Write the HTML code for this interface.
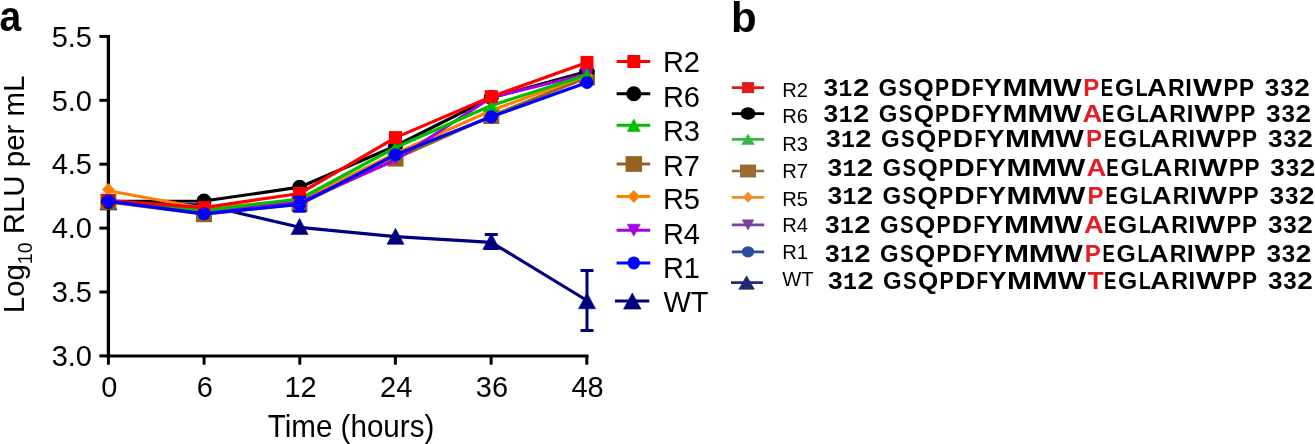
<!DOCTYPE html>
<html><head><meta charset="utf-8"><style>
html,body{margin:0;padding:0;background:#fff;width:1315px;height:444px;overflow:hidden}
svg{display:block;font-family:"Liberation Sans",sans-serif;will-change:transform}
</style></head><body>
<svg width="1315" height="444" viewBox="0 0 1315 444">
<g stroke="#000" stroke-width="3" fill="none" stroke-linecap="butt">
<path d="M108.4 35 V357.4" stroke-width="3.3"/>
<path d="M106.9 355.9 H588.5"/>
<path d="M99.4 36.40 H108.4"/>
<path d="M99.4 100.30 H108.4"/>
<path d="M99.4 164.20 H108.4"/>
<path d="M99.4 228.10 H108.4"/>
<path d="M99.4 292.00 H108.4"/>
<path d="M99.4 355.90 H108.4"/>
<path d="M108.4 355.9 V364.7"/>
<path d="M204.1 355.9 V364.7"/>
<path d="M299.8 355.9 V364.7"/>
<path d="M395.4 355.9 V364.7"/>
<path d="M491.1 355.9 V364.7"/>
<path d="M586.8 355.9 V364.7"/>
</g>
<g font-family="Liberation Sans, sans-serif" font-size="29" fill="#000">
<text x="92" y="47.00" text-anchor="end">5.5</text>
<text x="92" y="111.00" text-anchor="end">5.0</text>
<text x="92" y="174.10" text-anchor="end">4.5</text>
<text x="92" y="238.10" text-anchor="end">4.0</text>
<text x="92" y="302.00" text-anchor="end">3.5</text>
<text x="92" y="365.50" text-anchor="end">3.0</text>
<text transform="translate(109.20 396.9) scale(1 1.025)" text-anchor="middle">0</text>
<text transform="translate(204.90 396.9) scale(1 1.025)" text-anchor="middle">6</text>
<text transform="translate(300.60 396.9) scale(1 1.025)" text-anchor="middle">12</text>
<text transform="translate(396.20 396.9) scale(1 1.025)" text-anchor="middle">24</text>
<text transform="translate(491.90 396.9) scale(1 1.025)" text-anchor="middle">36</text>
<text transform="translate(587.60 396.9) scale(1 1.025)" text-anchor="middle">48</text>
<text transform="translate(267.7 437.3) scale(1 1.04)" font-size="29.6">Time (hours)</text>
<text transform="translate(24.3 313.3) rotate(-90)" font-size="29.45">Log<tspan font-size="19.5" dy="7.5">10</tspan><tspan dy="-7.5"> RLU per mL</tspan></text>
</g>
<text transform="translate(-0.6 31.4) scale(0.93 1)" font-family="Liberation Sans, sans-serif" font-weight="bold" font-size="42">a</text>
<text x="731" y="31.5" font-family="Liberation Sans, sans-serif" font-weight="bold" font-size="42">b</text>
<polyline points="108.40,202.00 204.00,205.00 299.60,227.30 395.50,236.60 491.30,242.30 587.00,300.50" fill="none" stroke="#000080" stroke-width="3.2" stroke-linejoin="round"/>
<path d="M491.3 234.5 V248.5 M484.8 234.5 H497.8 M484.8 248.5 H497.8" stroke="#000080" stroke-width="3" fill="none"/>
<path d="M587.0 270.5 V330.5 M580.5 270.5 H593.5 M580.5 330.5 H593.5" stroke="#000080" stroke-width="3" fill="none"/>
<path d="M108.40 194.00 L116.90 210.00 L99.90 210.00Z" fill="#000080" stroke="#000080" stroke-width="0.6" stroke-linejoin="round"/>
<path d="M204.00 197.00 L212.50 213.00 L195.50 213.00Z" fill="#000080" stroke="#000080" stroke-width="0.6" stroke-linejoin="round"/>
<path d="M299.60 218.40 L308.10 234.40 L291.10 234.40Z" fill="#000080" stroke="#000080" stroke-width="0.6" stroke-linejoin="round"/>
<path d="M395.50 228.30 L404.00 244.30 L387.00 244.30Z" fill="#000080" stroke="#000080" stroke-width="0.6" stroke-linejoin="round"/>
<path d="M491.30 233.50 L499.80 249.50 L482.80 249.50Z" fill="#000080" stroke="#000080" stroke-width="0.6" stroke-linejoin="round"/>
<path d="M587.00 292.80 L595.50 308.80 L578.50 308.80Z" fill="#000080" stroke="#000080" stroke-width="0.6" stroke-linejoin="round"/>
<polyline points="108.40,201.80 204.00,214.20 299.60,204.00 395.50,158.60 491.30,116.00 587.00,77.50" fill="none" stroke="#956220" stroke-width="3.2" stroke-linejoin="round"/>
<rect x="100.40" y="193.80" width="16" height="16" fill="#956220"/>
<rect x="196.00" y="206.20" width="16" height="16" fill="#956220"/>
<rect x="291.60" y="196.00" width="16" height="16" fill="#956220"/>
<rect x="387.50" y="150.60" width="16" height="16" fill="#956220"/>
<rect x="483.30" y="108.00" width="16" height="16" fill="#956220"/>
<rect x="579.00" y="69.50" width="16" height="16" fill="#956220"/>
<polyline points="108.40,201.40 204.00,201.00 299.60,187.20 395.50,146.00 491.30,97.60 587.00,71.50" fill="none" stroke="#000000" stroke-width="3.2" stroke-linejoin="round"/>
<ellipse cx="108.40" cy="201.40" rx="7.5" ry="7.5" fill="#000000"/>
<ellipse cx="204.00" cy="201.00" rx="7.5" ry="7.5" fill="#000000"/>
<ellipse cx="299.60" cy="187.20" rx="7.5" ry="7.5" fill="#000000"/>
<ellipse cx="395.50" cy="146.00" rx="7.5" ry="7.5" fill="#000000"/>
<ellipse cx="491.30" cy="97.60" rx="7.5" ry="7.5" fill="#000000"/>
<ellipse cx="587.00" cy="71.50" rx="7.5" ry="7.5" fill="#000000"/>
<polyline points="108.40,190.80 204.00,208.20 299.60,200.50 395.50,153.50 491.30,110.50 587.00,75.50" fill="none" stroke="#ff8000" stroke-width="3.2" stroke-linejoin="round"/>
<path d="M108.40 183.00 L114.80 189.50 L108.40 196.00 L102.00 189.50Z" fill="#ff8000"/>
<path d="M204.00 201.50 L210.40 208.00 L204.00 214.50 L197.60 208.00Z" fill="#ff8000"/>
<path d="M299.60 194.00 L306.00 200.50 L299.60 207.00 L293.20 200.50Z" fill="#ff8000"/>
<path d="M395.50 147.00 L401.90 153.50 L395.50 160.00 L389.10 153.50Z" fill="#ff8000"/>
<path d="M491.30 104.00 L497.70 110.50 L491.30 117.00 L484.90 110.50Z" fill="#ff8000"/>
<path d="M587.00 69.00 L593.40 75.50 L587.00 82.00 L580.60 75.50Z" fill="#ff8000"/>
<polyline points="108.40,200.50 204.00,211.50 299.60,202.30 395.50,160.00 491.30,97.50 587.00,74.00" fill="none" stroke="#a400e0" stroke-width="3.2" stroke-linejoin="round"/>
<path d="M108.40 206.50 L114.90 194.50 L101.90 194.50Z" fill="#a400e0" stroke="#a400e0" stroke-width="0.6" stroke-linejoin="round"/>
<path d="M204.00 217.50 L210.50 205.50 L197.50 205.50Z" fill="#a400e0" stroke="#a400e0" stroke-width="0.6" stroke-linejoin="round"/>
<path d="M299.60 208.30 L306.10 196.30 L293.10 196.30Z" fill="#a400e0" stroke="#a400e0" stroke-width="0.6" stroke-linejoin="round"/>
<path d="M395.50 164.50 L402.00 152.50 L389.00 152.50Z" fill="#a400e0" stroke="#a400e0" stroke-width="0.6" stroke-linejoin="round"/>
<path d="M491.30 103.50 L497.80 91.50 L484.80 91.50Z" fill="#a400e0" stroke="#a400e0" stroke-width="0.6" stroke-linejoin="round"/>
<path d="M587.00 80.00 L593.50 68.00 L580.50 68.00Z" fill="#a400e0" stroke="#a400e0" stroke-width="0.6" stroke-linejoin="round"/>
<polyline points="108.40,200.50 204.00,210.50 299.60,199.00 395.50,147.50 491.30,105.50 587.00,75.00" fill="none" stroke="#00be00" stroke-width="3.2" stroke-linejoin="round"/>
<path d="M108.40 194.25 L114.90 206.75 L101.90 206.75Z" fill="#00be00" stroke="#00be00" stroke-width="0.6" stroke-linejoin="round"/>
<path d="M204.00 204.25 L210.50 216.75 L197.50 216.75Z" fill="#00be00" stroke="#00be00" stroke-width="0.6" stroke-linejoin="round"/>
<path d="M299.60 192.75 L306.10 205.25 L293.10 205.25Z" fill="#00be00" stroke="#00be00" stroke-width="0.6" stroke-linejoin="round"/>
<path d="M395.50 141.25 L402.00 153.75 L389.00 153.75Z" fill="#00be00" stroke="#00be00" stroke-width="0.6" stroke-linejoin="round"/>
<path d="M491.30 99.25 L497.80 111.75 L484.80 111.75Z" fill="#00be00" stroke="#00be00" stroke-width="0.6" stroke-linejoin="round"/>
<path d="M587.00 68.75 L593.50 81.25 L580.50 81.25Z" fill="#00be00" stroke="#00be00" stroke-width="0.6" stroke-linejoin="round"/>
<polyline points="108.40,200.50 204.00,207.60 299.60,193.50 395.50,137.60 491.30,96.70 587.00,62.40" fill="none" stroke="#ff0000" stroke-width="3.2" stroke-linejoin="round"/>
<rect x="101.90" y="194.00" width="13" height="13" fill="#ff0000"/>
<rect x="197.50" y="201.10" width="13" height="13" fill="#ff0000"/>
<rect x="293.10" y="187.00" width="13" height="13" fill="#ff0000"/>
<rect x="389.00" y="131.10" width="13" height="13" fill="#ff0000"/>
<rect x="484.80" y="90.20" width="13" height="13" fill="#ff0000"/>
<rect x="580.50" y="55.90" width="13" height="13" fill="#ff0000"/>
<polyline points="108.40,201.20 204.00,213.80 299.60,204.40 395.50,154.70 491.30,116.80 587.00,82.50" fill="none" stroke="#0000ff" stroke-width="3.2" stroke-linejoin="round"/>
<path d="M299.6 197.3 V211.2 M293.1 197.3 H306.1 M293.1 211.2 H306.1" stroke="#0000ff" stroke-width="3" fill="none"/>
<ellipse cx="108.40" cy="201.20" rx="6.5" ry="6.5" fill="#0000ff"/>
<ellipse cx="204.00" cy="213.80" rx="6.5" ry="6.5" fill="#0000ff"/>
<ellipse cx="299.60" cy="204.40" rx="6.5" ry="6.5" fill="#0000ff"/>
<ellipse cx="395.50" cy="154.70" rx="6.5" ry="6.5" fill="#0000ff"/>
<ellipse cx="491.30" cy="116.80" rx="6.5" ry="6.5" fill="#0000ff"/>
<ellipse cx="587.00" cy="82.50" rx="6.5" ry="6.5" fill="#0000ff"/>
<path d="M616.6 61.5 H650.2" stroke="#ff0000" stroke-width="3"/>
<rect x="627.30" y="55.00" width="13" height="13" fill="#ff0000"/>
<text transform="translate(662.9 72.20) scale(1 1.04)" font-family="Liberation Sans, sans-serif" font-size="29">R2</text>
<path d="M616.6 93.8 H650.2" stroke="#000000" stroke-width="3"/>
<ellipse cx="633.80" cy="93.80" rx="7.5" ry="7.5" fill="#000000"/>
<text transform="translate(662.9 106.60) scale(1 1.04)" font-family="Liberation Sans, sans-serif" font-size="29">R6</text>
<path d="M616.6 125.2 H650.2" stroke="#00be00" stroke-width="3"/>
<path d="M633.80 118.95 L640.30 131.45 L627.30 131.45Z" fill="#00be00" stroke="#00be00" stroke-width="0.6" stroke-linejoin="round"/>
<text transform="translate(662.9 140.70) scale(1 1.04)" font-family="Liberation Sans, sans-serif" font-size="29">R3</text>
<path d="M616.6 164.0 H650.2" stroke="#956220" stroke-width="3"/>
<rect x="625.55" y="156.15" width="16.5" height="15.7" fill="#956220"/>
<text transform="translate(662.9 176.30) scale(1 1.04)" font-family="Liberation Sans, sans-serif" font-size="29">R7</text>
<path d="M616.6 196.5 H650.2" stroke="#ff8000" stroke-width="3"/>
<path d="M633.80 190.00 L640.10 196.50 L633.80 203.00 L627.50 196.50Z" fill="#ff8000"/>
<text transform="translate(662.9 209.30) scale(1 1.04)" font-family="Liberation Sans, sans-serif" font-size="29">R5</text>
<path d="M616.6 230.2 H650.2" stroke="#a400e0" stroke-width="3"/>
<path d="M633.80 236.20 L640.30 224.20 L627.30 224.20Z" fill="#a400e0" stroke="#a400e0" stroke-width="0.6" stroke-linejoin="round"/>
<text transform="translate(662.9 244.00) scale(1 1.04)" font-family="Liberation Sans, sans-serif" font-size="29">R4</text>
<path d="M616.6 262.9 H650.2" stroke="#0000ff" stroke-width="3"/>
<ellipse cx="633.80" cy="262.90" rx="6.25" ry="6.5" fill="#0000ff"/>
<text transform="translate(662.9 278.30) scale(1 1.04)" font-family="Liberation Sans, sans-serif" font-size="29">R1</text>
<path d="M615 301.1 H649.3" stroke="#000080" stroke-width="3"/>
<path d="M632.30 293.10 L641.05 309.10 L623.55 309.10Z" fill="#000080" stroke="#000080" stroke-width="0.6" stroke-linejoin="round"/>
<text transform="translate(663.4 311.70) scale(1 1.04)" font-family="Liberation Sans, sans-serif" font-size="29">WT</text>
<path d="M731.8 87.6 H764.2" stroke="#e31a1c" stroke-width="2.7"/>
<rect x="741.90" y="82.10" width="12.2" height="11" fill="#e31a1c"/>
<text x="782.2" y="96.90" font-family="Liberation Sans, sans-serif" font-size="20.2">R2</text>
<path d="M731.8 113.6 H764.2" stroke="#000000" stroke-width="2.7"/>
<ellipse cx="748.00" cy="113.60" rx="7.5" ry="6.25" fill="#000000"/>
<text x="782.2" y="123.30" font-family="Liberation Sans, sans-serif" font-size="20.2">R6</text>
<path d="M731.8 139.4 H764.2" stroke="#3ab54a" stroke-width="2.7"/>
<path d="M748.00 134.20 L754.50 144.60 L741.50 144.60Z" fill="#3ab54a" stroke="#3ab54a" stroke-width="0.6" stroke-linejoin="round"/>
<text x="782.2" y="150.60" font-family="Liberation Sans, sans-serif" font-size="20.2">R3</text>
<path d="M731.8 171 H764.2" stroke="#9a6a2e" stroke-width="2.7"/>
<rect x="740.05" y="164.55" width="15.9" height="12.9" fill="#9a6a2e"/>
<text x="782.2" y="178.30" font-family="Liberation Sans, sans-serif" font-size="20.2">R7</text>
<path d="M731.8 197.3 H764.2" stroke="#f28c28" stroke-width="2.7"/>
<path d="M748.00 191.80 L753.25 197.30 L748.00 202.80 L742.75 197.30Z" fill="#f28c28"/>
<text x="782.2" y="205.60" font-family="Liberation Sans, sans-serif" font-size="20.2">R5</text>
<path d="M731.8 224.9 H764.2" stroke="#7e3f98" stroke-width="2.7"/>
<path d="M748.00 229.95 L753.85 219.85 L742.15 219.85Z" fill="#7e3f98" stroke="#7e3f98" stroke-width="0.6" stroke-linejoin="round"/>
<text x="782.2" y="232.20" font-family="Liberation Sans, sans-serif" font-size="20.2">R4</text>
<path d="M731.8 251.8 H764.2" stroke="#2b4ea2" stroke-width="2.7"/>
<ellipse cx="748.00" cy="251.80" rx="6.2" ry="5.65" fill="#2b4ea2"/>
<text x="782.2" y="259.20" font-family="Liberation Sans, sans-serif" font-size="20.2">R1</text>
<path d="M731 282.6 H762.9" stroke="#1f2a6e" stroke-width="2.7"/>
<path d="M746.60 275.85 L754.40 289.35 L738.80 289.35Z" fill="#1f2a6e" stroke="#1f2a6e" stroke-width="0.6" stroke-linejoin="round"/>
<text x="782.3" y="286.10" font-family="Liberation Sans, sans-serif" font-size="20.2">WT</text>
<g font-family="Liberation Sans, sans-serif" font-weight="bold" font-size="23.7">
<text transform="translate(830.65 96.15) scale(1.112 1)" x="-6.43" fill="#000">3</text>
<text font-family="Liberation Mono, monospace" transform="translate(845.80 96.15) scale(0.981 1)" x="-7.41" fill="#000">1</text>
<text transform="translate(860.95 96.15) scale(1.236 1)" x="-6.53" fill="#000">2</text>
<text transform="translate(887.60 96.15) scale(1.013 1)" x="-8.97" fill="#000">G</text>
<text transform="translate(905.30 96.15) scale(0.859 1)" x="-7.78" fill="#000">S</text>
<text transform="translate(923.65 96.15) scale(1.099 1)" x="-9.21" fill="#000">Q</text>
<text transform="translate(942.40 96.15) scale(0.895 1)" x="-8.29" fill="#000">P</text>
<text transform="translate(960.95 96.15) scale(1.190 1)" x="-8.85" fill="#000">D</text>
<text transform="translate(978.10 96.15) scale(0.798 1)" x="-7.60" fill="#000">F</text>
<text transform="translate(992.95 96.15) scale(1.152 1)" x="-7.92" fill="#000">Y</text>
<text transform="translate(1015.00 96.15) scale(1.267 1)" x="-9.87" fill="#000">M</text>
<text transform="translate(1040.30 96.15) scale(1.303 1)" x="-9.87" fill="#000">M</text>
<text transform="translate(1067.15 96.15) scale(1.277 1)" x="-11.18" fill="#000">W</text>
<text transform="translate(1091.70 96.15) scale(1.014 1)" x="-8.29" fill="#e41e25">P</text>
<text transform="translate(1107.20 96.15) scale(0.782 1)" x="-8.23" fill="#000">E</text>
<text transform="translate(1124.25 96.15) scale(1.044 1)" x="-8.97" fill="#000">G</text>
<text transform="translate(1142.05 96.15) scale(0.814 1)" x="-7.67" fill="#000">L</text>
<text transform="translate(1157.00 96.15) scale(1.157 1)" x="-8.54" fill="#000">A</text>
<text transform="translate(1176.95 96.15) scale(0.977 1)" x="-9.11" fill="#000">R</text>
<text transform="translate(1188.60 96.15) scale(0.996 1)" x="-3.29" fill="#000">I</text>
<text transform="translate(1207.50 96.15) scale(1.299 1)" x="-11.18" fill="#000">W</text>
<text transform="translate(1231.15 96.15) scale(0.932 1)" x="-8.29" fill="#000">P</text>
<text transform="translate(1246.80 96.15) scale(0.954 1)" x="-8.29" fill="#000">P</text>
<text transform="translate(1271.90 96.15) scale(1.104 1)" x="-6.43" fill="#000">3</text>
<text transform="translate(1286.80 96.15) scale(1.019 1)" x="-6.43" fill="#000">3</text>
<text transform="translate(1301.95 96.15) scale(1.183 1)" x="-6.53" fill="#000">2</text>
<text transform="translate(830.75 121.85) scale(1.112 1)" x="-6.43" fill="#000">3</text>
<text font-family="Liberation Mono, monospace" transform="translate(845.90 121.85) scale(0.981 1)" x="-7.41" fill="#000">1</text>
<text transform="translate(861.05 121.85) scale(1.236 1)" x="-6.53" fill="#000">2</text>
<text transform="translate(887.70 121.85) scale(1.013 1)" x="-8.97" fill="#000">G</text>
<text transform="translate(905.40 121.85) scale(0.859 1)" x="-7.78" fill="#000">S</text>
<text transform="translate(923.75 121.85) scale(1.099 1)" x="-9.21" fill="#000">Q</text>
<text transform="translate(942.50 121.85) scale(0.895 1)" x="-8.29" fill="#000">P</text>
<text transform="translate(961.05 121.85) scale(1.190 1)" x="-8.85" fill="#000">D</text>
<text transform="translate(978.20 121.85) scale(0.798 1)" x="-7.60" fill="#000">F</text>
<text transform="translate(993.05 121.85) scale(1.152 1)" x="-7.92" fill="#000">Y</text>
<text transform="translate(1015.10 121.85) scale(1.267 1)" x="-9.87" fill="#000">M</text>
<text transform="translate(1040.40 121.85) scale(1.303 1)" x="-9.87" fill="#000">M</text>
<text transform="translate(1067.25 121.85) scale(1.277 1)" x="-11.18" fill="#000">W</text>
<text transform="translate(1092.40 121.85) scale(1.157 1)" x="-8.54" fill="#e41e25">A</text>
<text transform="translate(1108.50 121.85) scale(0.782 1)" x="-8.23" fill="#000">E</text>
<text transform="translate(1125.55 121.85) scale(1.044 1)" x="-8.97" fill="#000">G</text>
<text transform="translate(1143.35 121.85) scale(0.814 1)" x="-7.67" fill="#000">L</text>
<text transform="translate(1158.30 121.85) scale(1.157 1)" x="-8.54" fill="#000">A</text>
<text transform="translate(1178.25 121.85) scale(0.977 1)" x="-9.11" fill="#000">R</text>
<text transform="translate(1189.90 121.85) scale(0.996 1)" x="-3.29" fill="#000">I</text>
<text transform="translate(1208.80 121.85) scale(1.299 1)" x="-11.18" fill="#000">W</text>
<text transform="translate(1232.45 121.85) scale(0.932 1)" x="-8.29" fill="#000">P</text>
<text transform="translate(1248.10 121.85) scale(0.954 1)" x="-8.29" fill="#000">P</text>
<text transform="translate(1273.20 121.85) scale(1.104 1)" x="-6.43" fill="#000">3</text>
<text transform="translate(1288.10 121.85) scale(1.019 1)" x="-6.43" fill="#000">3</text>
<text transform="translate(1303.25 121.85) scale(1.183 1)" x="-6.53" fill="#000">2</text>
<text transform="translate(833.05 146.75) scale(1.112 1)" x="-6.43" fill="#000">3</text>
<text font-family="Liberation Mono, monospace" transform="translate(848.20 146.75) scale(0.981 1)" x="-7.41" fill="#000">1</text>
<text transform="translate(863.35 146.75) scale(1.236 1)" x="-6.53" fill="#000">2</text>
<text transform="translate(890.00 146.75) scale(1.013 1)" x="-8.97" fill="#000">G</text>
<text transform="translate(907.70 146.75) scale(0.859 1)" x="-7.78" fill="#000">S</text>
<text transform="translate(926.05 146.75) scale(1.099 1)" x="-9.21" fill="#000">Q</text>
<text transform="translate(944.80 146.75) scale(0.895 1)" x="-8.29" fill="#000">P</text>
<text transform="translate(963.35 146.75) scale(1.190 1)" x="-8.85" fill="#000">D</text>
<text transform="translate(980.50 146.75) scale(0.798 1)" x="-7.60" fill="#000">F</text>
<text transform="translate(995.35 146.75) scale(1.152 1)" x="-7.92" fill="#000">Y</text>
<text transform="translate(1017.40 146.75) scale(1.267 1)" x="-9.87" fill="#000">M</text>
<text transform="translate(1042.70 146.75) scale(1.303 1)" x="-9.87" fill="#000">M</text>
<text transform="translate(1069.55 146.75) scale(1.277 1)" x="-11.18" fill="#000">W</text>
<text transform="translate(1094.45 146.75) scale(1.014 1)" x="-8.29" fill="#e41e25">P</text>
<text transform="translate(1110.30 146.75) scale(0.782 1)" x="-8.23" fill="#000">E</text>
<text transform="translate(1127.35 146.75) scale(1.044 1)" x="-8.97" fill="#000">G</text>
<text transform="translate(1145.15 146.75) scale(0.814 1)" x="-7.67" fill="#000">L</text>
<text transform="translate(1160.10 146.75) scale(1.157 1)" x="-8.54" fill="#000">A</text>
<text transform="translate(1180.05 146.75) scale(0.977 1)" x="-9.11" fill="#000">R</text>
<text transform="translate(1191.70 146.75) scale(0.996 1)" x="-3.29" fill="#000">I</text>
<text transform="translate(1210.60 146.75) scale(1.299 1)" x="-11.18" fill="#000">W</text>
<text transform="translate(1234.25 146.75) scale(0.932 1)" x="-8.29" fill="#000">P</text>
<text transform="translate(1249.90 146.75) scale(0.954 1)" x="-8.29" fill="#000">P</text>
<text transform="translate(1275.00 146.75) scale(1.104 1)" x="-6.43" fill="#000">3</text>
<text transform="translate(1289.90 146.75) scale(1.019 1)" x="-6.43" fill="#000">3</text>
<text transform="translate(1305.05 146.75) scale(1.183 1)" x="-6.53" fill="#000">2</text>
<text transform="translate(834.55 176.15) scale(1.112 1)" x="-6.43" fill="#000">3</text>
<text font-family="Liberation Mono, monospace" transform="translate(849.70 176.15) scale(0.981 1)" x="-7.41" fill="#000">1</text>
<text transform="translate(864.85 176.15) scale(1.236 1)" x="-6.53" fill="#000">2</text>
<text transform="translate(891.50 176.15) scale(1.013 1)" x="-8.97" fill="#000">G</text>
<text transform="translate(909.20 176.15) scale(0.859 1)" x="-7.78" fill="#000">S</text>
<text transform="translate(927.55 176.15) scale(1.099 1)" x="-9.21" fill="#000">Q</text>
<text transform="translate(946.30 176.15) scale(0.895 1)" x="-8.29" fill="#000">P</text>
<text transform="translate(964.85 176.15) scale(1.190 1)" x="-8.85" fill="#000">D</text>
<text transform="translate(982.00 176.15) scale(0.798 1)" x="-7.60" fill="#000">F</text>
<text transform="translate(996.85 176.15) scale(1.152 1)" x="-7.92" fill="#000">Y</text>
<text transform="translate(1018.90 176.15) scale(1.267 1)" x="-9.87" fill="#000">M</text>
<text transform="translate(1044.20 176.15) scale(1.303 1)" x="-9.87" fill="#000">M</text>
<text transform="translate(1071.05 176.15) scale(1.277 1)" x="-11.18" fill="#000">W</text>
<text transform="translate(1096.40 176.15) scale(1.157 1)" x="-8.54" fill="#e41e25">A</text>
<text transform="translate(1112.70 176.15) scale(0.782 1)" x="-8.23" fill="#000">E</text>
<text transform="translate(1129.75 176.15) scale(1.044 1)" x="-8.97" fill="#000">G</text>
<text transform="translate(1147.55 176.15) scale(0.814 1)" x="-7.67" fill="#000">L</text>
<text transform="translate(1162.50 176.15) scale(1.157 1)" x="-8.54" fill="#000">A</text>
<text transform="translate(1182.45 176.15) scale(0.977 1)" x="-9.11" fill="#000">R</text>
<text transform="translate(1194.10 176.15) scale(0.996 1)" x="-3.29" fill="#000">I</text>
<text transform="translate(1213.00 176.15) scale(1.299 1)" x="-11.18" fill="#000">W</text>
<text transform="translate(1236.65 176.15) scale(0.932 1)" x="-8.29" fill="#000">P</text>
<text transform="translate(1252.30 176.15) scale(0.954 1)" x="-8.29" fill="#000">P</text>
<text transform="translate(1277.40 176.15) scale(1.104 1)" x="-6.43" fill="#000">3</text>
<text transform="translate(1292.30 176.15) scale(1.019 1)" x="-6.43" fill="#000">3</text>
<text transform="translate(1307.45 176.15) scale(1.183 1)" x="-6.53" fill="#000">2</text>
<text transform="translate(834.55 204.15) scale(1.112 1)" x="-6.43" fill="#000">3</text>
<text font-family="Liberation Mono, monospace" transform="translate(849.70 204.15) scale(0.981 1)" x="-7.41" fill="#000">1</text>
<text transform="translate(864.85 204.15) scale(1.236 1)" x="-6.53" fill="#000">2</text>
<text transform="translate(891.50 204.15) scale(1.013 1)" x="-8.97" fill="#000">G</text>
<text transform="translate(909.20 204.15) scale(0.859 1)" x="-7.78" fill="#000">S</text>
<text transform="translate(927.55 204.15) scale(1.099 1)" x="-9.21" fill="#000">Q</text>
<text transform="translate(946.30 204.15) scale(0.895 1)" x="-8.29" fill="#000">P</text>
<text transform="translate(964.85 204.15) scale(1.190 1)" x="-8.85" fill="#000">D</text>
<text transform="translate(982.00 204.15) scale(0.798 1)" x="-7.60" fill="#000">F</text>
<text transform="translate(996.85 204.15) scale(1.152 1)" x="-7.92" fill="#000">Y</text>
<text transform="translate(1018.90 204.15) scale(1.267 1)" x="-9.87" fill="#000">M</text>
<text transform="translate(1044.20 204.15) scale(1.303 1)" x="-9.87" fill="#000">M</text>
<text transform="translate(1071.05 204.15) scale(1.277 1)" x="-11.18" fill="#000">W</text>
<text transform="translate(1096.00 204.15) scale(1.014 1)" x="-8.29" fill="#e41e25">P</text>
<text transform="translate(1111.90 204.15) scale(0.782 1)" x="-8.23" fill="#000">E</text>
<text transform="translate(1128.95 204.15) scale(1.044 1)" x="-8.97" fill="#000">G</text>
<text transform="translate(1146.75 204.15) scale(0.814 1)" x="-7.67" fill="#000">L</text>
<text transform="translate(1161.70 204.15) scale(1.157 1)" x="-8.54" fill="#000">A</text>
<text transform="translate(1181.65 204.15) scale(0.977 1)" x="-9.11" fill="#000">R</text>
<text transform="translate(1193.30 204.15) scale(0.996 1)" x="-3.29" fill="#000">I</text>
<text transform="translate(1212.20 204.15) scale(1.299 1)" x="-11.18" fill="#000">W</text>
<text transform="translate(1235.85 204.15) scale(0.932 1)" x="-8.29" fill="#000">P</text>
<text transform="translate(1251.50 204.15) scale(0.954 1)" x="-8.29" fill="#000">P</text>
<text transform="translate(1276.60 204.15) scale(1.104 1)" x="-6.43" fill="#000">3</text>
<text transform="translate(1291.50 204.15) scale(1.019 1)" x="-6.43" fill="#000">3</text>
<text transform="translate(1306.65 204.15) scale(1.183 1)" x="-6.53" fill="#000">2</text>
<text transform="translate(832.05 233.15) scale(1.112 1)" x="-6.43" fill="#000">3</text>
<text font-family="Liberation Mono, monospace" transform="translate(847.20 233.15) scale(0.981 1)" x="-7.41" fill="#000">1</text>
<text transform="translate(862.35 233.15) scale(1.236 1)" x="-6.53" fill="#000">2</text>
<text transform="translate(889.00 233.15) scale(1.013 1)" x="-8.97" fill="#000">G</text>
<text transform="translate(906.70 233.15) scale(0.859 1)" x="-7.78" fill="#000">S</text>
<text transform="translate(925.05 233.15) scale(1.099 1)" x="-9.21" fill="#000">Q</text>
<text transform="translate(943.80 233.15) scale(0.895 1)" x="-8.29" fill="#000">P</text>
<text transform="translate(962.35 233.15) scale(1.190 1)" x="-8.85" fill="#000">D</text>
<text transform="translate(979.50 233.15) scale(0.798 1)" x="-7.60" fill="#000">F</text>
<text transform="translate(994.35 233.15) scale(1.152 1)" x="-7.92" fill="#000">Y</text>
<text transform="translate(1016.40 233.15) scale(1.267 1)" x="-9.87" fill="#000">M</text>
<text transform="translate(1041.70 233.15) scale(1.303 1)" x="-9.87" fill="#000">M</text>
<text transform="translate(1068.55 233.15) scale(1.277 1)" x="-11.18" fill="#000">W</text>
<text transform="translate(1093.95 233.15) scale(1.157 1)" x="-8.54" fill="#e41e25">A</text>
<text transform="translate(1110.30 233.15) scale(0.782 1)" x="-8.23" fill="#000">E</text>
<text transform="translate(1127.35 233.15) scale(1.044 1)" x="-8.97" fill="#000">G</text>
<text transform="translate(1145.15 233.15) scale(0.814 1)" x="-7.67" fill="#000">L</text>
<text transform="translate(1160.10 233.15) scale(1.157 1)" x="-8.54" fill="#000">A</text>
<text transform="translate(1180.05 233.15) scale(0.977 1)" x="-9.11" fill="#000">R</text>
<text transform="translate(1191.70 233.15) scale(0.996 1)" x="-3.29" fill="#000">I</text>
<text transform="translate(1210.60 233.15) scale(1.299 1)" x="-11.18" fill="#000">W</text>
<text transform="translate(1234.25 233.15) scale(0.932 1)" x="-8.29" fill="#000">P</text>
<text transform="translate(1249.90 233.15) scale(0.954 1)" x="-8.29" fill="#000">P</text>
<text transform="translate(1275.00 233.15) scale(1.104 1)" x="-6.43" fill="#000">3</text>
<text transform="translate(1289.90 233.15) scale(1.019 1)" x="-6.43" fill="#000">3</text>
<text transform="translate(1305.05 233.15) scale(1.183 1)" x="-6.53" fill="#000">2</text>
<text transform="translate(832.05 261.55) scale(1.112 1)" x="-6.43" fill="#000">3</text>
<text font-family="Liberation Mono, monospace" transform="translate(847.20 261.55) scale(0.981 1)" x="-7.41" fill="#000">1</text>
<text transform="translate(862.35 261.55) scale(1.236 1)" x="-6.53" fill="#000">2</text>
<text transform="translate(889.00 261.55) scale(1.013 1)" x="-8.97" fill="#000">G</text>
<text transform="translate(906.70 261.55) scale(0.859 1)" x="-7.78" fill="#000">S</text>
<text transform="translate(925.05 261.55) scale(1.099 1)" x="-9.21" fill="#000">Q</text>
<text transform="translate(943.80 261.55) scale(0.895 1)" x="-8.29" fill="#000">P</text>
<text transform="translate(962.35 261.55) scale(1.190 1)" x="-8.85" fill="#000">D</text>
<text transform="translate(979.50 261.55) scale(0.798 1)" x="-7.60" fill="#000">F</text>
<text transform="translate(994.35 261.55) scale(1.152 1)" x="-7.92" fill="#000">Y</text>
<text transform="translate(1016.40 261.55) scale(1.267 1)" x="-9.87" fill="#000">M</text>
<text transform="translate(1041.70 261.55) scale(1.303 1)" x="-9.87" fill="#000">M</text>
<text transform="translate(1068.55 261.55) scale(1.277 1)" x="-11.18" fill="#000">W</text>
<text transform="translate(1093.20 261.55) scale(1.014 1)" x="-8.29" fill="#e41e25">P</text>
<text transform="translate(1108.80 261.55) scale(0.782 1)" x="-8.23" fill="#000">E</text>
<text transform="translate(1125.85 261.55) scale(1.044 1)" x="-8.97" fill="#000">G</text>
<text transform="translate(1143.65 261.55) scale(0.814 1)" x="-7.67" fill="#000">L</text>
<text transform="translate(1158.60 261.55) scale(1.157 1)" x="-8.54" fill="#000">A</text>
<text transform="translate(1178.55 261.55) scale(0.977 1)" x="-9.11" fill="#000">R</text>
<text transform="translate(1190.20 261.55) scale(0.996 1)" x="-3.29" fill="#000">I</text>
<text transform="translate(1209.10 261.55) scale(1.299 1)" x="-11.18" fill="#000">W</text>
<text transform="translate(1232.75 261.55) scale(0.932 1)" x="-8.29" fill="#000">P</text>
<text transform="translate(1248.40 261.55) scale(0.954 1)" x="-8.29" fill="#000">P</text>
<text transform="translate(1273.50 261.55) scale(1.104 1)" x="-6.43" fill="#000">3</text>
<text transform="translate(1288.40 261.55) scale(1.019 1)" x="-6.43" fill="#000">3</text>
<text transform="translate(1303.55 261.55) scale(1.183 1)" x="-6.53" fill="#000">2</text>
<text transform="translate(835.15 289.15) scale(1.112 1)" x="-6.43" fill="#000">3</text>
<text font-family="Liberation Mono, monospace" transform="translate(850.30 289.15) scale(0.981 1)" x="-7.41" fill="#000">1</text>
<text transform="translate(865.45 289.15) scale(1.236 1)" x="-6.53" fill="#000">2</text>
<text transform="translate(892.10 289.15) scale(1.013 1)" x="-8.97" fill="#000">G</text>
<text transform="translate(909.80 289.15) scale(0.859 1)" x="-7.78" fill="#000">S</text>
<text transform="translate(928.15 289.15) scale(1.099 1)" x="-9.21" fill="#000">Q</text>
<text transform="translate(946.90 289.15) scale(0.895 1)" x="-8.29" fill="#000">P</text>
<text transform="translate(965.45 289.15) scale(1.190 1)" x="-8.85" fill="#000">D</text>
<text transform="translate(982.60 289.15) scale(0.798 1)" x="-7.60" fill="#000">F</text>
<text transform="translate(997.45 289.15) scale(1.152 1)" x="-7.92" fill="#000">Y</text>
<text transform="translate(1019.50 289.15) scale(1.267 1)" x="-9.87" fill="#000">M</text>
<text transform="translate(1044.80 289.15) scale(1.303 1)" x="-9.87" fill="#000">M</text>
<text transform="translate(1071.65 289.15) scale(1.277 1)" x="-11.18" fill="#000">W</text>
<text transform="translate(1095.50 289.15) scale(1.118 1)" x="-7.24" fill="#e41e25">T</text>
<text transform="translate(1110.30 289.15) scale(0.782 1)" x="-8.23" fill="#000">E</text>
<text transform="translate(1127.35 289.15) scale(1.044 1)" x="-8.97" fill="#000">G</text>
<text transform="translate(1145.15 289.15) scale(0.814 1)" x="-7.67" fill="#000">L</text>
<text transform="translate(1160.10 289.15) scale(1.157 1)" x="-8.54" fill="#000">A</text>
<text transform="translate(1180.05 289.15) scale(0.977 1)" x="-9.11" fill="#000">R</text>
<text transform="translate(1191.70 289.15) scale(0.996 1)" x="-3.29" fill="#000">I</text>
<text transform="translate(1210.60 289.15) scale(1.299 1)" x="-11.18" fill="#000">W</text>
<text transform="translate(1234.25 289.15) scale(0.932 1)" x="-8.29" fill="#000">P</text>
<text transform="translate(1249.90 289.15) scale(0.954 1)" x="-8.29" fill="#000">P</text>
<text transform="translate(1275.00 289.15) scale(1.104 1)" x="-6.43" fill="#000">3</text>
<text transform="translate(1289.90 289.15) scale(1.019 1)" x="-6.43" fill="#000">3</text>
<text transform="translate(1305.05 289.15) scale(1.183 1)" x="-6.53" fill="#000">2</text>
</g>
</svg>
</body></html>
